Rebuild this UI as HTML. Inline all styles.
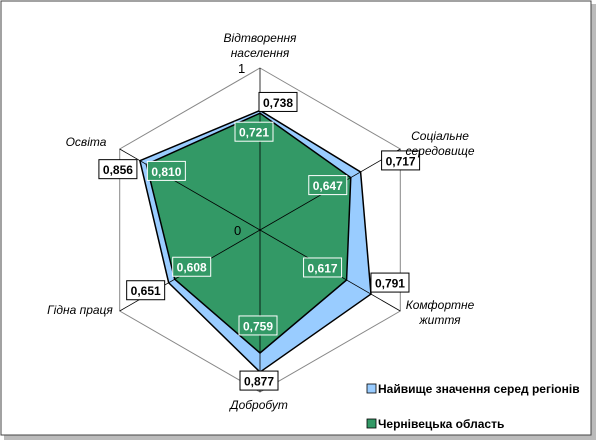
<!DOCTYPE html>
<html><head><meta charset="utf-8"><style>
body{margin:0;background:#fff;}
svg{display:block;font-family:"Liberation Sans",Arial,sans-serif;}
</style></head><body>
<svg id="chart" width="600" height="444">
<rect x="4" y="4" width="592" height="436" fill="#bbb"/>
<rect x="1" y="1" width="590" height="434" fill="#fff" stroke="#444" stroke-width="1"/>
<g id="grid"></g><g id="series"></g><g id="labels"></g>
<text x="238" y="73" font-size="13">1</text>
<text x="234" y="235" font-size="13">0</text>
<g font-size="12" font-style="italic" text-anchor="middle">
<text x="260" y="42">Відтворення</text>
<text x="260" y="57">населення</text>
<text x="440" y="140">Соціальне</text>
<text x="440" y="155">середовище</text>
<text x="440" y="309">Комфортне</text>
<text x="440" y="324">життя</text>
<text x="259" y="409">Добробут</text>
<text x="80" y="314">Гідна праця</text>
<text x="86" y="146">Освіта</text>
</g>
<g font-size="12" font-weight="bold">
<rect x="367" y="384" width="9" height="9" fill="#99ccff" stroke="#000" stroke-width="0.8"/>
<text x="378" y="393">Найвище значення серед регіонів</text>
<rect x="367" y="419" width="9" height="9" fill="#339966" stroke="#000" stroke-width="0.8"/>
<text x="378" y="428">Чернівецька область</text>
</g>
</svg>
<script>
const categories = ["Відтворення населення","Соціальне середовище","Комфортне життя","Добробут","Гідна праця","Освіта"];
const maxValues = [0.738,0.717,0.791,0.877,0.651,0.856];
const chernValues = [0.721,0.647,0.617,0.759,0.608,0.810];
const cx=260, cy=230, R=162;
const NS="http://www.w3.org/2000/svg";
function ang(i){return -Math.PI/2 + i*Math.PI/3;}
function pt(i,v){return [cx+R*v*Math.cos(ang(i)), cy+R*v*Math.sin(ang(i))];}
function mk(tag,attrs,parent){const e=document.createElementNS(NS,tag);for(const k in attrs)e.setAttribute(k,attrs[k]);parent.appendChild(e);return e;}
const grid=document.getElementById('grid'), ser=document.getElementById('series'), lab=document.getElementById('labels');
const outer=categories.map((c,i)=>pt(i,1).join(',')).join(' ');
const hex=mk('polygon',{points:outer,fill:'none',stroke:'#888','stroke-width':1},grid);


function drawSeries(vals,fill,name){
  const p=mk('polygon',{points:vals.map((v,i)=>pt(i,v).join(',')).join(' '),fill:fill,stroke:'#000','stroke-width':1.5},ser);
  
  
}
drawSeries(maxValues,'#99ccff','series-max');
drawSeries(chernValues,'#339966','series-chernivtsi');
categories.forEach((c,i)=>{
  const e=pt(i,1);
  const l=mk('line',{x1:cx,y1:cy,x2:e[0],y2:e[1],stroke:'#000','stroke-width':0.8},ser);
  
  
});
const maxOff=[[18,-8],[40,-11],[19,-11],[-1,9],[-23,8],[-22,9]];
const chOff=[[-6,19],[-23,8],[-24,-12],[-2,-27],[17,-12],[20,7]];
function drawLabels(vals,off,bg,fg,name){
  vals.forEach((v,i)=>{
    const p=pt(i,v); const x=p[0]+off[i][0], y=p[1]+off[i][1];
    const t=v.toFixed(3).replace('.',',');
    const r=mk('rect',{x:x-19,y:y-10,width:38,height:19,fill:bg,stroke:bg==='#fff'?'#000':'#fff','stroke-width':1},lab);
    
    
    const tx=mk('text',{x:x,y:y+4.5,'text-anchor':'middle','font-size':12,'font-weight':'bold',fill:fg},lab);
    tx.textContent=t;
    
    
  });
}
drawLabels(maxValues,maxOff,'#fff','#000','max-value-label');
drawLabels(chernValues,chOff,'#339966','#fff','chernivtsi-value-label');
</script>
</body></html>
